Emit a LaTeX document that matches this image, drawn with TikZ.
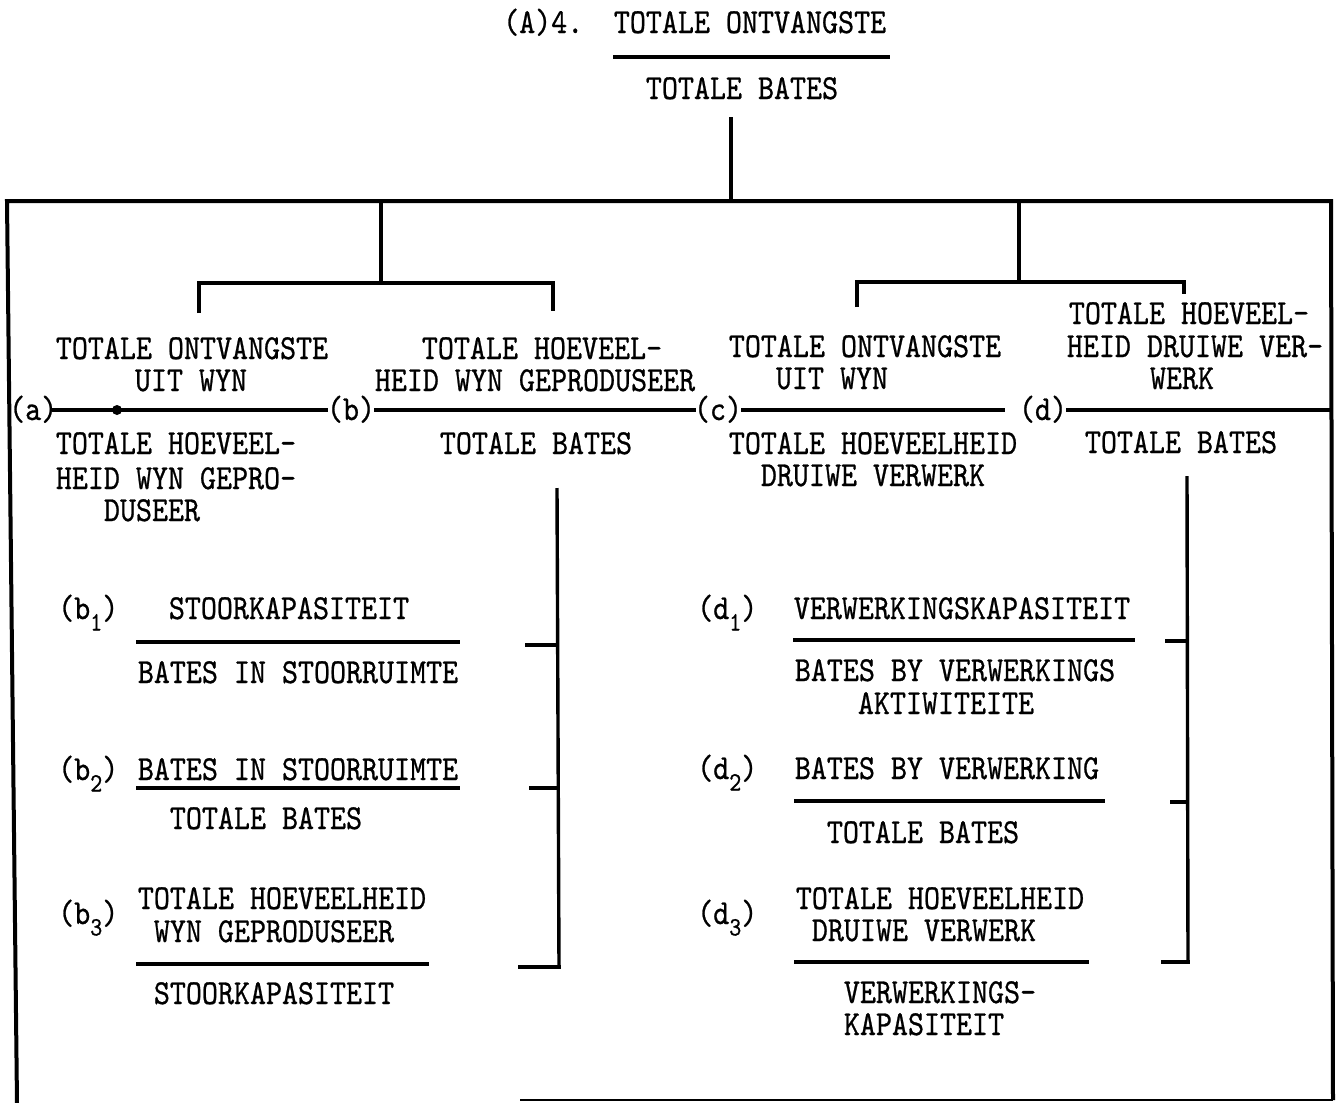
\documentclass[tikz,border=0pt]{standalone}
\usepackage{graphicx}
\usepackage{fontspec}
\setmonofont{lmmono10-regular.otf}[FakeBold=0.8]
\newcommand\tw[1]{\scalebox{1}[1.15]{#1}}
\newcommand\sbs[1]{\raisebox{-10pt}{\fontsize{23}{23}\selectfont #1}}
\begin{document}
\begin{tikzpicture}[x=1pt,y=-1pt,
  txt/.style={font=\ttfamily\fontsize{30.5}{32}\selectfont, inner sep=0pt, anchor=base},
  lbl/.style={txt, anchor=base west},
  ln/.style={line width=3.4pt},
  bx/.style={line width=4pt}]
\useasboundingbox[fill=white] (0,0) rectangle (1342,1103);

% ---------- top ratio
\node[lbl] (nA) at (503,33) {\tw{(A)4.}};
\node[txt] (topnum) at (750,33) {\tw{TOTALE ONTVANGSTE}};
\node[txt] (topden) at (742,99) {\tw{TOTALE BATES}};
\coordinate (tfl) at (613,57); \coordinate (tfr) at (890,57);
\draw[ln] (tfl) -- (tfr);
\coordinate (t0) at (731,117); \coordinate (t1) at (731,201);
\draw[ln] (t0) -- (t1);

% ---------- frame
\coordinate (bxTL) at (7,201); \coordinate (bxTR) at (1331,201);
\coordinate (bxBL) at (17,1103); \coordinate (bxBR) at (1333,1100);
\coordinate (bxB0) at (520,1100);
\draw[bx] (bxBL) -- (bxTL) -- (bxTR) -- (bxBR);
\draw[line width=2pt] (bxB0) -- (bxBR);

% ---------- tree
\coordinate (lt0) at (381,201); \coordinate (lt1) at (381,283);
\coordinate (lh0) at (199,283); \coordinate (lh1) at (553,283);
\coordinate (ld0) at (199,313); \coordinate (ld1) at (553,311);
\coordinate (rt0) at (1019,201); \coordinate (rt1) at (1019,282);
\coordinate (rh0) at (857,282); \coordinate (rh1) at (1184,282);
\coordinate (rd0) at (857,307); \coordinate (rd1) at (1184,294);
\draw[ln] (lt0) -- (lt1);
\draw[ln] (ld0) -- (lh0) -- (lh1) -- (ld1);
\draw[ln] (rt0) -- (rt1);
\draw[ln] (rd0) -- (rh0) -- (rh1) -- (rd1);

% ---------- first row numerators
\node[txt] (l1a) at (192,359) {\tw{TOTALE ONTVANGSTE}};
\node[txt] (l1b) at (191,391) {\tw{UIT WYN}};
\node[txt] (l2a) at (542,359) {\tw{TOTALE HOEVEEL-}};
\node[txt] (l2b) at (535,391) {\tw{HEID WYN GEPRODUSEER}};
\node[txt] (l3a) at (865,357) {\tw{TOTALE ONTVANGSTE}};
\node[txt] (l3b) at (832,389) {\tw{UIT WYN}};
\node[txt] (l4a) at (1189,324) {\tw{TOTALE HOEVEEL-}};
\node[txt] (l4b) at (1195,357) {\tw{HEID DRUIWE VER-}};
\node[txt] (l4c) at (1182,389) {\tw{WERK}};

% ---------- row of fraction lines
\node[lbl] (na) at (9,420) {\tw{(a)}};
\node[txt] (nb) at (351,420) {\tw{(b)}};
\node[txt] (nc) at (718,420) {\tw{(c)}};
\node[txt] (nd) at (1043,420) {\tw{(d)}};
\coordinate (fa0) at (52,410); \coordinate (fa1) at (328,410);
\coordinate (fb0) at (374,410); \coordinate (fb1) at (696,410);
\coordinate (fc0) at (741,410); \coordinate (fc1) at (1005,410);
\coordinate (fd0) at (1066,410); \coordinate (fd1) at (1331,410);
\draw[ln] (fa0) -- (fa1);
\draw[ln] (fb0) -- (fb1);
\draw[ln] (fc0) -- (fc1);
\draw[ln] (fd0) -- (fd1);
\coordinate (dot) at (117,410);
\fill (dot) circle (5pt);

% ---------- first row denominators
\node[txt] (m1a) at (176,454) {\tw{TOTALE HOEVEEL-}};
\node[txt] (m1b) at (176,489) {\tw{HEID WYN GEPRO-}};
\node[txt] (m1c) at (152,521) {\tw{DUSEER}};
\node[txt] (m2) at (536,454) {\tw{TOTALE BATES}};
\node[txt] (m3a) at (873,454) {\tw{TOTALE HOEVEELHEID}};
\node[txt] (m3b) at (873,486) {\tw{DRUIWE VERWERK}};
\node[txt] (m4) at (1181,453) {\tw{TOTALE BATES}};

% ---------- bracket b
\coordinate (bb0) at (557,488); \coordinate (bb3) at (559,967);
\coordinate (bb1) at (557.6,645); \coordinate (bb2) at (558.3,788);
\coordinate (bt1) at (525,645); \coordinate (bt2) at (529,788); \coordinate (bt3) at (518,967);
\draw[ln] (bb0) -- (bb3);
\draw[ln] (bt1) -- (bb1);
\draw[ln] (bt2) -- (bb2);
\draw[ln] (bt3) -- ([xshift=1.7pt]bb3);

% ---------- bracket d
\coordinate (db0) at (1187,476); \coordinate (db3) at (1188,962);
\coordinate (db1) at (1187.3,641); \coordinate (db2) at (1187.6,802);
\coordinate (dt1) at (1165,641); \coordinate (dt2) at (1170,802); \coordinate (dt3) at (1161,962);
\draw[ln] (db0) -- (db3);
\draw[ln] (dt1) -- (db1);
\draw[ln] (dt2) -- (db2);
\draw[ln] (dt3) -- ([xshift=1.7pt]db3);

% ---------- b ratios
\node[lbl] (b1l) at (58,619) {\tw{(b\sbs{1})}};
\node[txt] (b1n) at (289,619) {\tw{STOORKAPASITEIT}};
\coordinate (b1f0) at (136,642); \coordinate (b1f1) at (460,642);
\draw[ln] (b1f0) -- (b1f1);
\node[txt] (b1d) at (298,683) {\tw{BATES IN STOORRUIMTE}};

\node[lbl] (b2l) at (58,780) {\tw{(b\sbs{2})}};
\node[txt] (b2n) at (298,780) {\tw{BATES IN STOORRUIMTE}};
\coordinate (b2f0) at (136,788); \coordinate (b2f1) at (460,788);
\draw[ln] (b2f0) -- (b2f1);
\node[txt] (b2d) at (266,829) {\tw{TOTALE BATES}};

\node[lbl] (b3l) at (58,924) {\tw{(b\sbs{3})}};
\node[txt] (b3na) at (282,909) {\tw{TOTALE HOEVEELHEID}};
\node[txt] (b3nb) at (274,942) {\tw{WYN GEPRODUSEER}};
\coordinate (b3f0) at (136,964); \coordinate (b3f1) at (429,964);
\draw[ln] (b3f0) -- (b3f1);
\node[txt] (b3d) at (274,1004) {\tw{STOORKAPASITEIT}};

% ---------- d ratios
\node[lbl] (d1l) at (697,619) {\tw{(d\sbs{1})}};
\node[txt] (d1n) at (962,619) {\tw{VERWERKINGSKAPASITEIT}};
\coordinate (d1f0) at (793,640); \coordinate (d1f1) at (1135,640);
\draw[ln] (d1f0) -- (d1f1);
\node[txt] (d1da) at (955,681) {\tw{BATES BY VERWERKINGS}};
\node[txt] (d1db) at (946,714) {\tw{AKTIWITEITE}};

\node[lbl] (d2l) at (697,779) {\tw{(d\sbs{2})}};
\node[txt] (d2n) at (947,779) {\tw{BATES BY VERWERKING}};
\coordinate (d2f0) at (794,801); \coordinate (d2f1) at (1105,801);
\draw[ln] (d2f0) -- (d2f1);
\node[txt] (d2d) at (923,843) {\tw{TOTALE BATES}};

\node[lbl] (d3l) at (697,924) {\tw{(d\sbs{3})}};
\node[txt] (d3na) at (940,909) {\tw{TOTALE HOEVEELHEID}};
\node[txt] (d3nb) at (924,941) {\tw{DRUIWE VERWERK}};
\coordinate (d3f0) at (794,962); \coordinate (d3f1) at (1089,962);
\draw[ln] (d3f0) -- (d3f1);
\node[txt] (d3da) at (940,1003) {\tw{VERWERKINGS-}};
\node[txt] (d3db) at (924,1035) {\tw{KAPASITEIT}};
\end{tikzpicture}
\end{document}
